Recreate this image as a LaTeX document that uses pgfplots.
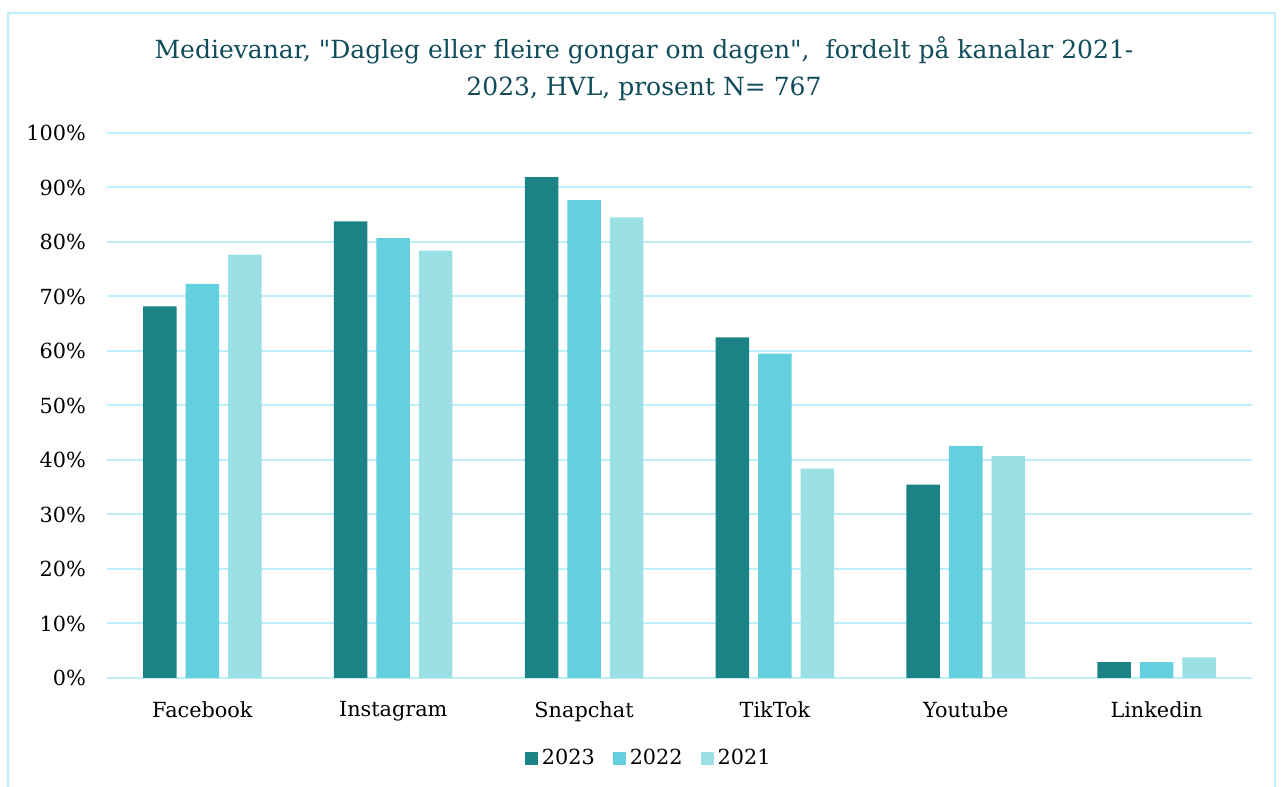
\documentclass[border=0pt]{standalone}
\usepackage{pgfplots}
\pgfplotsset{compat=1.18}
\usepackage{fontspec}
\setmainfont{DejaVu Serif}[Ligatures=TeXOff]
\definecolor{c23}{RGB}{27,130,134}
\definecolor{c22}{RGB}{100,207,222}
\definecolor{c21}{RGB}{154,224,228}
\definecolor{gridc}{RGB}{190,238,250}
\definecolor{titlec}{RGB}{16,76,90}
\definecolor{framec}{RGB}{190,238,250}
\begin{document}
\begin{tikzpicture}
\useasboundingbox (0,0) rectangle (641pt,393.5pt);
\draw[framec, line width=1.2pt] (4pt,-3pt) -- (4pt,387pt) -- (637.5pt,387pt) -- (637.5pt,-3pt);
\node[align=center, text=titlec, font=\fontsize{12.5}{18.5}\selectfont] at (322pt,359pt)
 {Medievanar, "Dagleg eller fleire gongar om dagen",\ \ fordelt på kanalar 2021-\\2023, HVL, prosent N= 767};
\begin{axis}[
 at={(53.5pt,54.5pt)}, anchor=south west,
 scale only axis, width=572.5pt, height=272.5pt,
 xmin=-0.5, xmax=5.5, ymin=0, ymax=100,
 ybar=4.5pt, bar width=16.75pt,
 axis line style={draw=none}, tick style={draw=none},
 ymajorgrids, grid style={gridc, line width=1pt},
 ytick={0,10,...,100}, yticklabel={\pgfmathprintnumber{\tick}\%},
 xtick={0,...,5}, xticklabels={Facebook,Instagram,Snapchat,TikTok,Youtube,Linkedin},
 ticklabel style={font=\fontsize{10.4}{12}\selectfont, text=black},
 /pgf/number format/assume math mode=true,
 yticklabel style={anchor=east, xshift=-7pt},
 xticklabel style={yshift=-4pt},
 legend style={at={(0.474,-0.147)}, anchor=center, draw=none, fill=none,
   legend columns=3, font=\fontsize{10.4}{12}\selectfont,
   /tikz/every even column/.append style={column sep=7pt}},
 legend image code/.code={\fill[#1] (0pt,-3.25pt) rectangle (6.5pt,3.25pt);},
]
\addplot[fill=c23, draw=none] coordinates {(0,68.2) (1,83.8) (2,91.9) (3,62.5) (4,35.5) (5,2.9)};
\addplot[fill=c22, draw=none] coordinates {(0,72.3) (1,80.7) (2,87.7) (3,59.5) (4,42.6) (5,2.9)};
\addplot[fill=c21, draw=none] coordinates {(0,77.7) (1,78.4) (2,84.5) (3,38.4) (4,40.7) (5,3.8)};
\legend{2023,2022,2021}
\end{axis}
\end{tikzpicture}
\end{document}
